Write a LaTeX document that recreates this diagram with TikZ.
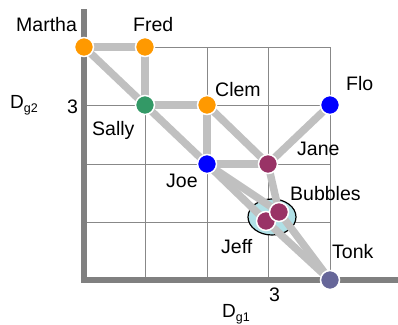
\documentclass[tikz,border=0pt]{standalone}
\usepackage{fontspec}
\setmainfont{Liberation Sans}
\usetikzlibrary{shapes.geometric}
\definecolor{edgegray}{RGB}{192,192,192}
\definecolor{axisgray}{RGB}{128,128,128}
\definecolor{gridgray}{RGB}{136,136,136}
\definecolor{orangeN}{RGB}{255,153,0}
\definecolor{greenN}{RGB}{51,153,102}
\definecolor{blueN}{RGB}{0,0,255}
\definecolor{purpleN}{RGB}{153,51,102}
\definecolor{slateN}{RGB}{102,102,153}
\definecolor{cliqueFill}{RGB}{176,224,230}
\begin{document}
\begin{tikzpicture}[x=1pt,y=-1pt,
  person/.style={circle,draw=white,line width=1.5pt,minimum size=19pt,inner sep=0pt},
  tie/.style={edgegray,line width=7.5pt},
  gridline/.style={gridgray,line width=1pt},
  axisline/.style={axisgray,line width=6.5pt},
  lbl/.style={inner sep=0pt,anchor=base west,font=\fontsize{19.5}{23}\selectfont},
  dlbl/.style={inner sep=0pt,anchor=base west,font=\fontsize{19}{23}\selectfont}]
\useasboundingbox (0,0) rectangle (398,324);
% grid
\foreach \x in {145,207,268,330} \draw[gridline] (\x,47) -- (\x,280);
\foreach \y in {47,105,164,222} \draw[gridline] (84,\y) -- (330,\y);
% axes
\coordinate (ytop) at (84,9);
\coordinate (corner) at (84,280);
\coordinate (xend) at (398,280);
\draw[axisline] (ytop) -- (84,283.25);
\draw[axisline] (80.75,280) -- (xend);
% clique ellipse
\node[ellipse,draw=black,line width=1.2pt,fill=cliqueFill,minimum width=48pt,minimum height=36pt,inner sep=0pt] (clique) at (272,217) {};
% node coordinates
\coordinate (pMartha) at (84,47);
\coordinate (pFred) at (145,47);
\coordinate (pSally) at (145,105);
\coordinate (pClem) at (207,105);
\coordinate (pFlo) at (330,105);
\coordinate (pJoe) at (207,164);
\coordinate (pJane) at (268,164);
\coordinate (pBubbles) at (279,212);
\coordinate (pJeff) at (266,221);
\coordinate (pTonk) at (330,280);
% ties
\draw[tie] (pMartha) -- (pFred);
\draw[tie] (pFred) -- (pSally);
\draw[tie] (pMartha) -- (pSally);
\draw[tie] (pSally) -- (pJoe);
\draw[tie] (pSally) -- (pClem);
\draw[tie] (pClem) -- (pJoe);
\draw[tie] (pClem) -- (pJane);
\draw[tie] (pJoe) -- (pJane);
\draw[tie] (pJane) -- (pFlo);
\draw[tie] (pJane) -- (pBubbles);
\draw[tie] (pJoe) -- (pBubbles);
\draw[tie] (pJoe) -- (pJeff);
\draw[tie] (pJeff) -- (pTonk);
\draw[tie] (pBubbles) -- (pTonk);
% people
\node[person,fill=orangeN] (Martha) at (pMartha) {};
\node[person,fill=orangeN] (Fred) at (pFred) {};
\node[person,fill=greenN] (Sally) at (pSally) {};
\node[person,fill=orangeN] (Clem) at (pClem) {};
\node[person,fill=blueN] (Flo) at (pFlo) {};
\node[person,fill=blueN] (Joe) at (pJoe) {};
\node[person,fill=purpleN] (Jane) at (pJane) {};
\node[person,fill=purpleN] (Jeff) at (pJeff) {};
\node[person,fill=purpleN] (Bubbles) at (pBubbles) {};
\node[person,fill=slateN] (Tonk) at (pTonk) {};
% labels
\node[lbl] (tMartha) at (16,31) {Martha};
\node[lbl] (tFred) at (133,31) {Fred};
\node[lbl] (tSally) at (92,135) {Sally};
\node[lbl] (tClem) at (215,96) {Clem};
\node[lbl] (tFlo) at (346,90) {Flo};
\node[lbl] (tJane) at (297,155) {Jane};
\node[lbl] (tJoe) at (166,187) {Joe};
\node[lbl] (tBubbles) at (290,200) {Bubbles};
\node[lbl] (tJeff) at (221,253) {Jeff};
\node[lbl] (tTonk) at (332,258) {Tonk};
\node[lbl] (tick2) at (67,113) {3};
\node[lbl] (tick1) at (269,301) {3};
\node[dlbl] (dg2) at (10,108) {D\raisebox{-4pt}{\fontsize{12.5}{14}\selectfont g2}};
\node[dlbl] (dg1) at (222,317) {D\raisebox{-4pt}{\fontsize{12.5}{14}\selectfont g1}};
\end{tikzpicture}
\end{document}
